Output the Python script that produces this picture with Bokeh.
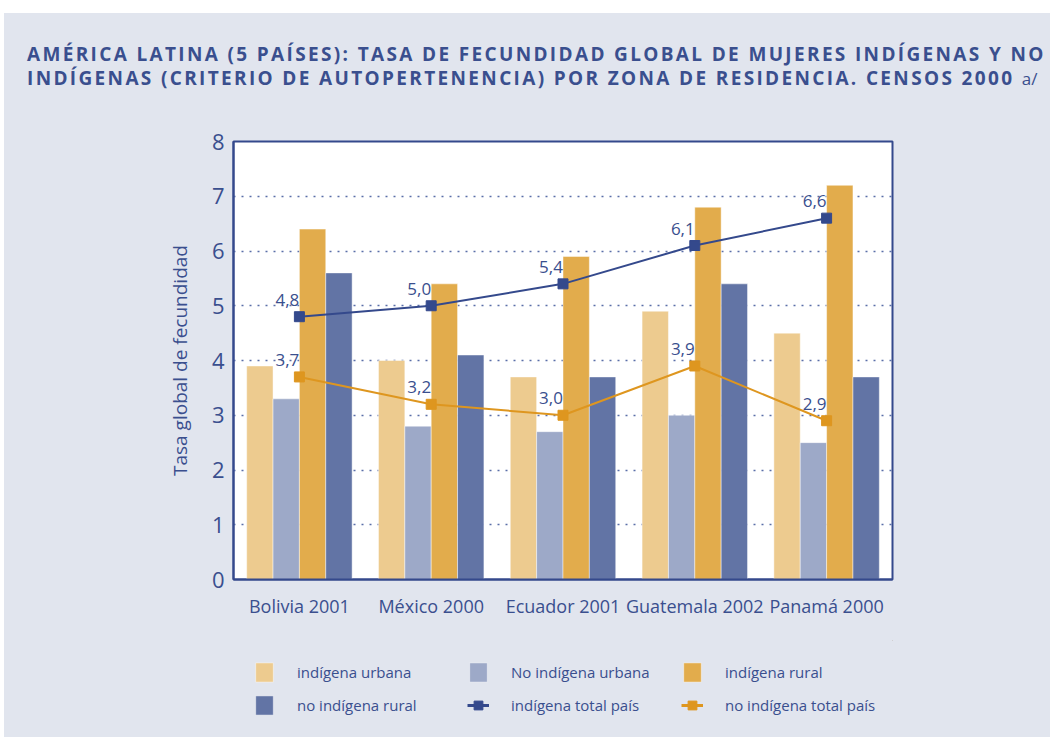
from bokeh.plotting import figure
from bokeh.models import Legend, LegendItem, ColumnDataSource, Spacer, Div
from bokeh.layouts import column, row
from bokeh.transform import dodge
from bokeh.core.properties import value
from bokeh.embed import file_html
from bokeh.resources import INLINE

countries = ["Bolivia 2001", "México 2000", "Ecuador 2001", "Guatemala 2002", "Panamá 2000"]
indigena_urbana = [3.9, 4.0, 3.7, 4.9, 4.5]
no_indigena_urbana = [3.3, 2.8, 2.7, 3.0, 2.5]
indigena_rural = [6.4, 5.4, 5.9, 6.8, 7.2]
no_indigena_rural = [5.6, 4.1, 3.7, 5.4, 3.7]
indigena_total = [4.8, 5.0, 5.4, 6.1, 6.6]
no_indigena_total = [3.7, 3.2, 3.0, 3.9, 2.9]
y_ticks = [0, 1, 2, 3, 4, 5, 6, 7, 8]
series_names = ["indígena urbana", "No indígena urbana", "indígena rural",
                "no indígena rural", "indígena total país", "no indígena total país"]

def fmt(v):
    return f"{v:.1f}".replace(".", ",")

BG = "#E1E5EE"
TXT = "#3A4F8E"
C_IU = "#EDCB8F"
C_NIU = "#9DA9C8"
C_IR = "#E2AC4C"
C_NIR = "#6274A5"
C_LI = "#34498C"
C_LN = "#DE961F"
FONT = "Open Sans"

src = ColumnDataSource(dict(
    country=countries, iu=indigena_urbana, niu=no_indigena_urbana,
    ir=indigena_rural, nir=no_indigena_rural,
    it=indigena_total, nt=no_indigena_total,
    it_lab=[fmt(v) for v in indigena_total],
    nt_lab=[fmt(v) for v in no_indigena_total],
))

# ---------- main chart ----------
p = figure(x_range=countries, y_range=(0, 8), width=1046, height=527,
           output_backend="svg", toolbar_location=None,
           min_border_left=229, min_border_right=158,
           min_border_top=28, min_border_bottom=61)
p.x_range.range_padding = 0
p.background_fill_color = "white"
p.border_fill_color = BG
p.outline_line_color = C_LI
p.outline_line_width = 2

bar_specs = [("iu", -0.3, C_IU), ("niu", -0.1, C_NIU), ("ir", 0.1, C_IR), ("nir", 0.3, C_NIR)]
for key, off, col in bar_specs:
    p.vbar(x=dodge("country", off, range=p.x_range), top=key, width=0.2,
           source=src, fill_color=col, line_color="white", line_alpha=0.45,
           line_width=1)

p.line("country", "it", source=src, line_color=C_LI, line_width=2)
p.scatter("country", "it", source=src, marker="square", size=10,
          fill_color=C_LI, line_color=C_LI)
p.line("country", "nt", source=src, line_color=C_LN, line_width=2)
p.scatter("country", "nt", source=src, marker="square", size=10,
          fill_color=C_LN, line_color=C_LN)

for ycol, lab in [("it", "it_lab"), ("nt", "nt_lab")]:
    p.text("country", ycol, text=lab, source=src, x_offset=-12, y_offset=-17,
           text_align="center", text_baseline="middle",
           text_font=value(FONT), text_font_size="17px", text_color=TXT)

p.xgrid.grid_line_color = None
p.ygrid.grid_line_color = "#5A6EA8"
p.ygrid.grid_line_dash = "2 6"
p.ygrid.grid_line_width = 1.5
p.ygrid.ticker = y_ticks

for ax in (p.xaxis, p.yaxis):
    ax.axis_line_color = C_LI
    ax.axis_line_width = 2
    ax.major_tick_line_color = None
    ax.minor_tick_line_color = None
    ax.major_tick_out = 0
    ax.major_tick_in = 0
    ax.minor_tick_out = 0
    ax.major_label_text_color = TXT
    ax.major_label_text_font = FONT
p.yaxis.ticker = y_ticks
p.yaxis.major_label_text_font_size = "22px"
p.yaxis.major_label_standoff = 9
p.yaxis.axis_label = "Tasa global de fecundidad"
p.yaxis.axis_label_text_font = FONT
p.yaxis.axis_label_text_font_style = "normal"
p.yaxis.axis_label_text_font_size = "19px"
p.yaxis.axis_label_text_color = TXT
p.yaxis.axis_label_standoff = 16
p.xaxis.major_label_text_font_size = "18px"
p.xaxis.major_label_standoff = 14

# ---------- legend strip (its glyphs fall outside its own ranges) ----------
pl = figure(width=1046, height=97, x_range=(0, 1), y_range=(0, 1),
            x_axis_type=None, y_axis_type=None, output_backend="svg",
            toolbar_location=None, min_border=0)
pl.background_fill_alpha = 0
pl.border_fill_alpha = 0
pl.outline_line_color = None
pl.xgrid.grid_line_color = None
pl.ygrid.grid_line_color = None

leg_r = []
for key, off, col in bar_specs:
    leg_r.append([pl.vbar(x=key, top=key, bottom=key, width=0.1, source=src,
                          fill_color=col, line_color="white", line_alpha=0.45)])
for key, col in (("it", C_LI), ("nt", C_LN)):
    ln = pl.line(x=key, y=key, source=src, line_color=col, line_width=3)
    mk = pl.scatter(x=key, y=key, source=src, marker="square", size=6,
                    fill_color=col, line_color=col)
    leg_r.append([ln, mk])

items = [LegendItem(label=n, renderers=r) for n, r in zip(series_names, leg_r)]
# legend fills column by column: reorder so rows read like the original
order = [0, 3, 1, 4, 2, 5]
legend = Legend(items=[items[i] for i in order], ncols=3, location=(20, 20))
legend.background_fill_alpha = 0
legend.border_line_color = None
legend.padding = 0
legend.margin = 0
legend.spacing = 9
legend.glyph_width = 22
legend.glyph_height = 24
legend.label_standoff = 22
legend.label_text_font = FONT
legend.label_text_font_size = "15px"
legend.label_text_color = TXT
legend.label_height = 24
legend.label_width = 161
pl.add_layout(legend, "center")

# ---------- title ----------
title_html = (
    f'<div style="width:1030px;font-family:\'Open Sans\';font-weight:bold;font-size:19px;'
    f'letter-spacing:2.35px;line-height:24px;color:{TXT};text-align:center;padding-top:29px;'
    f'padding-left:23px;white-space:nowrap;">'
    'AMÉRICA LATINA (5 PAÍSES): TASA DE FECUNDIDAD GLOBAL DE MUJERES INDÍGENAS Y NO<br>'
    'INDÍGENAS (CRITERIO DE AUTOPERTENENCIA) POR ZONA DE RESIDENCIA. CENSOS 2000 '
    '<span style="font-weight:normal;font-size:17px;letter-spacing:0;">a/</span></div>'
)
title = Div(text=title_html, width=1046, height=100,
            styles={"margin": "0", "padding": "0"})

body = column(title, p, pl, styles={"background-color": BG})
layout = row(Spacer(width=4, height=737),
             column(Spacer(width=1046, height=13), body))
open("out.html", "w").write(file_html(layout, INLINE))
